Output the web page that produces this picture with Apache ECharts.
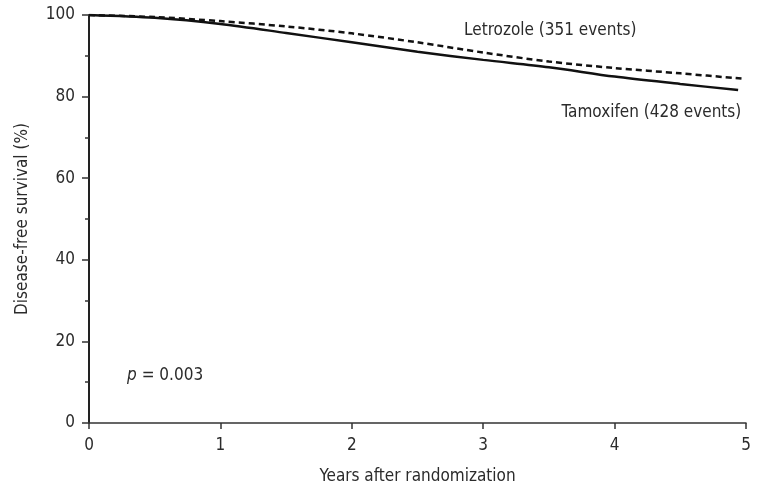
<!DOCTYPE html>
<html>
<head>
<meta charset="utf-8">
<script src="https://cdn.jsdelivr.net/npm/echarts@6/dist/echarts.min.js"></script>
<style>
  html, body { margin: 0; padding: 0; background: #fff; }
  #chart { width: 766px; height: 491px; }
</style>
</head>
<body>
<div id="chart"></div>
<script>
// years after randomization / disease-free survival (%)
const letrozole = [
  [0, 100], [0.5, 99.5], [1, 98.5], [1.5, 97.2], [2, 95.5], [2.5, 93.3],
  [3, 90.8], [3.5, 88.6], [4, 87.0], [4.5, 85.7], [4.97, 84.4]
];
const tamoxifen = [
  [0, 100], [0.5, 99.3], [1, 97.8], [1.5, 95.6], [2, 93.3], [2.5, 91.0],
  [3, 89.0], [3.5, 87.2], [4, 84.9], [4.5, 83.1], [4.94, 81.6]
];
const xTicks = [0, 1, 2, 3, 4, 5];
const yTicks = [0, 20, 40, 60, 80, 100];

const fontFamily = '"Liberation Sans Narrow", "DejaVu Sans Condensed", sans-serif';
const textColor = '#2b2b2b';
const fontSize = 17;

const chart = echarts.init(document.getElementById('chart'));

chart.setOption({
  animation: false,
  textStyle: { fontFamily: fontFamily, color: textColor },
  grid: { left: 89, right: 20, top: 15, bottom: 68, containLabel: false },
  xAxis: {
    type: 'value',
    min: xTicks[0],
    max: xTicks[xTicks.length - 1],
    interval: 1,
    name: 'Years after randomization',
    nameLocation: 'middle',
    nameGap: 45,
    nameTextStyle: { fontSize: fontSize, color: textColor, fontFamily: fontFamily },
    axisLine: { lineStyle: { color: '#333', width: 1.5 } },
    axisTick: { length: 6, lineStyle: { color: '#333', width: 1.5 } },
    axisLabel: { fontSize: fontSize, color: textColor, margin: 14, fontFamily: fontFamily },
    splitLine: { show: false }
  },
  yAxis: {
    type: 'value',
    min: yTicks[0],
    max: yTicks[yTicks.length - 1],
    interval: 20,
    name: 'Disease-free survival (%)',
    nameLocation: 'middle',
    nameGap: 58,
    nameTextStyle: { fontSize: fontSize, color: textColor, fontFamily: fontFamily },
    axisLine: { show: true, lineStyle: { color: '#222', width: 2 } },
    axisTick: { show: true, length: 7, lineStyle: { color: '#333', width: 1.5 } },
    minorTick: { show: true, splitNumber: 2, length: 4, lineStyle: { color: '#333', width: 1.5 } },
    axisLabel: { fontSize: fontSize, color: textColor, margin: 14, fontFamily: fontFamily },
    splitLine: { show: false }
  },
  series: [
    {
      name: 'Tamoxifen',
      type: 'line',
      data: tamoxifen,
      showSymbol: false,
      smooth: 0.3,
      lineStyle: { color: '#111', width: 2.5, type: 'solid' },
      markPoint: {
        symbolSize: 0,
        data: [
          {
            coord: [4.28, 76.2],
            label: { show: true, formatter: 'Tamoxifen (428 events)', fontSize: fontSize,
              color: textColor, fontFamily: fontFamily, position: 'inside' }
          },
          {
            coord: [0.29, 11.7],
            label: { show: true, formatter: '{i|p} = 0.003', fontSize: fontSize, color: textColor,
              fontFamily: fontFamily, position: 'right', distance: 0,
              rich: { i: { fontStyle: 'italic', fontSize: fontSize, color: textColor, fontFamily: fontFamily } } }
          }
        ]
      }
    },
    {
      name: 'Letrozole',
      type: 'line',
      data: letrozole,
      showSymbol: false,
      smooth: 0.3,
      lineStyle: { color: '#111', width: 2.5, type: [6, 4] },
      markPoint: {
        symbolSize: 0,
        data: [
          {
            coord: [3.51, 96.3],
            label: { show: true, formatter: 'Letrozole (351 events)', fontSize: fontSize,
              color: textColor, fontFamily: fontFamily, position: 'inside' }
          }
        ]
      }
    }
  ]
});
</script>
</body>
</html>
